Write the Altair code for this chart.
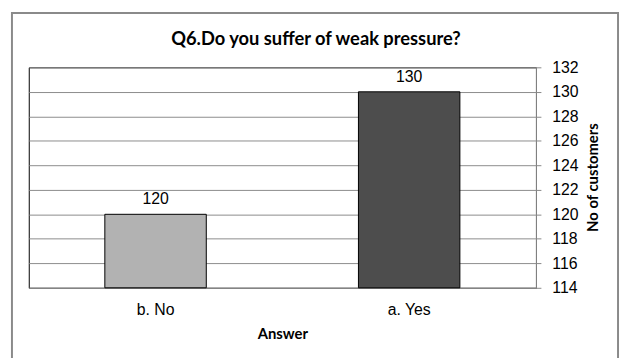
import altair as alt
import pandas as pd

categories = ["b. No", "a. Yes"]
values = [120, 130]
colors = ["#b2b2b2", "#4d4d4d"]
y_ticks = [114, 116, 118, 120, 122, 124, 126, 128, 130, 132]

df = pd.DataFrame({"Answer": categories, "Count": values, "Color": colors})

base = alt.Chart(df)

x_axis = alt.Axis(title="Answer", labelAngle=0, ticks=False, domainColor="#888888",
                  labelFont="Liberation Sans", labelFontSize=16, labelColor="#000",
                  labelPadding=14, titleFont="Lato", titleFontWeight="bold",
                  titleFontSize=15, titleColor="#000", titlePadding=9)
x_scale = alt.Scale(paddingInner=0.6, paddingOuter=0.3)
y_scale = alt.Scale(domain=[114, 132], zero=False, nice=False)
y_axis = alt.Axis(orient="right", values=y_ticks, title="No of customers",
                  titleAngle=270, titleX=57, titleY=111, titleAlign="center",
                  titleBaseline="middle", grid=True, gridColor="#8c8c8c",
                  domainColor="#888888", tickColor="#888888", tickSize=5,
                  labelFont="Liberation Sans", labelFontSize=16, labelColor="#000",
                  labelPadding=11, labelOverlap=False, titleFont="Lato",
                  titleFontWeight="bold", titleFontSize=15, titleColor="#000")

bars = base.mark_bar(stroke="#000", strokeWidth=1).encode(
    x=alt.X("Answer:N", sort=categories, scale=x_scale, axis=x_axis),
    y=alt.Y("Count:Q", scale=y_scale, axis=y_axis),
    y2=alt.datum(114),
    color=alt.Color("Color:N", scale=None),
)

labels = base.mark_text(font="Liberation Sans", fontSize=16, color="#000", dy=-10,
                        baseline="alphabetic").encode(
    x=alt.X("Answer:N", sort=categories, scale=x_scale, axis=x_axis),
    y=alt.Y("Count:Q", scale=y_scale, axis=y_axis),
    text=alt.Text("Count:Q"),
)

frame = alt.Chart(alt.Data(values=[{}])).mark_rect(
    fill=None, stroke="#8a8a8a", strokeWidth=2
).encode(
    x=alt.value(-17), x2=alt.value(596), y=alt.value(-55), y2=alt.value(300)
)

chart = alt.layer(frame, bars, labels).properties(
    width=513, height=223,
    title=alt.TitleParams("Q6.Do you suffer of weak pressure?", font="Lato",
                          fontSize=18.5, fontWeight="bold", color="#000", offset=18,
                          dy=55, dx=34, frame="group"),
    autosize=alt.AutoSizeParams(type="none"),
    padding={"left": 21, "top": 58, "right": 85, "bottom": 69},
).configure_view(stroke="#000", strokeWidth=1)

chart.save("out.html", embed_options={"renderer": "svg", "actions": False})
